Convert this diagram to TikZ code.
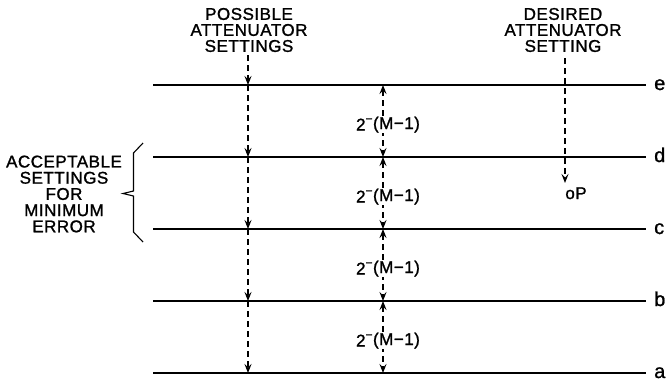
\documentclass[tikz,border=0pt]{standalone}
\usepackage{fontspec}
\setmainfont{Liberation Sans}
\newfontfamily\lettering{Liberation Sans}[FakeBold=1.3,LetterSpace=3]
\newfontfamily\levelfont{Liberation Sans}[FakeBold=1]
\usetikzlibrary{arrows.meta,calc}
\begin{document}
\begin{tikzpicture}[x=1pt,y=-1pt,
  level/.style={line width=2.4pt},
  tip/.tip={Stealth[length=9pt,width=7pt,inset=3.5pt]},
  dasharrow/.style={line width=1.1pt, dash pattern=on 6pt off 4pt, -tip},
  dblarrow/.style={line width=1.1pt, dash pattern=on 6pt off 4pt, tip-tip},
  caption/.style={align=center, inner sep=0pt, font=\lettering\fontsize{17}{16}\selectfont},
  sidecap/.style={align=center, inner sep=0pt, font=\lettering\fontsize{17}{16.2}\selectfont},
  lvlabel/.style={anchor=base west, inner sep=0pt, font=\levelfont\fontsize{20}{20}\selectfont},
  steplabel/.style={fill=white, inner sep=0.8pt, font=\lettering\fontsize{17}{17}\selectfont},
  bracket/.style={line width=1.1pt}
]
\useasboundingbox (0,0) rectangle (668,381);

% level lines
\foreach \n/\y in {e/85,d/157,c/229,b/301,a/373}{
  \coordinate (\n L) at (153,\y);
  \coordinate (\n R) at (646,\y);
  \coordinate (\n P) at (248,\y);
  \coordinate (\n M) at (383,\y);
  \draw[level] (\n L) -- (\n R);
  \node[lvlabel] (lab\n) at (654,\y+5) {\n};
}

% captions
\node[caption] (possible) at (249,30) {POSSIBLE\\ATTENUATOR\\SETTINGS};
\node[caption] (desired) at (563,30) {DESIRED\\ATTENUATOR\\SETTING};
\node[sidecap] (accept) at (64,194) {ACCEPTABLE\\SETTINGS\\FOR\\MINIMUM\\ERROR};

% possible settings arrows
\coordinate (p0) at (248,55);
\draw[dasharrow] (p0) -- (eP);
\draw[dasharrow] (eP) -- (dP);
\draw[dasharrow] (dP) -- (cP);
\draw[dasharrow] (cP) -- (bP);
\draw[dasharrow] (bP) -- (aP);

% desired setting
\coordinate (q0) at (565,58);
\node[inner sep=0pt, anchor=base, font=\lettering\fontsize{17}{17}\selectfont] (P) at (576,199) {oP};
\coordinate (q1) at (565,183);
\draw[dasharrow] (q0) -- (q1);

% step arrows and labels
\foreach \u/\l in {e/d,d/c,c/b,b/a}{
  \draw[dblarrow] (\u M) -- (\l M);
  \node[steplabel] (s\u) at ($(\u M)!0.55!(\l M)+(5,0)$) {2\raisebox{1.5pt}{\textsuperscript{−}(M−1)}};
}

% bracket
\draw[bracket] (143,143) -- (133.5,153) -- (133.5,191) -- (123,193.5) -- (133.5,196) -- (133.5,232) -- (143,242);
\end{tikzpicture}
\end{document}
